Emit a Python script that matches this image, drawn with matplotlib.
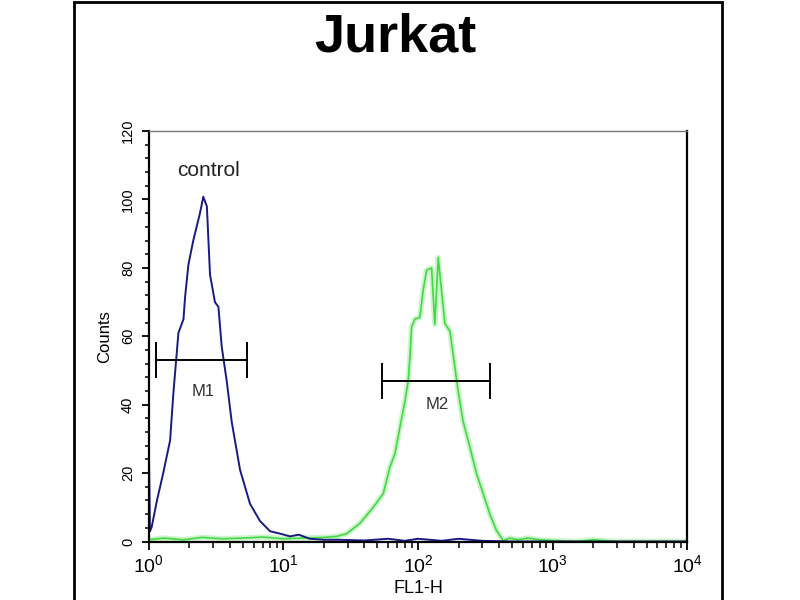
import matplotlib
matplotlib.use("Agg")
import matplotlib.pyplot as plt
from matplotlib.patches import Rectangle
from matplotlib.ticker import MultipleLocator, LogLocator, NullFormatter

plt.rcParams["font.family"] = ["Liberation Sans", "DejaVu Sans"]
plt.rcParams["mathtext.fontset"] = "custom"
plt.rcParams["mathtext.rm"] = "Liberation Sans"
plt.rcParams["mathtext.it"] = "Liberation Sans"

# control histogram (blue)
control_x = [1.0, 1.0, 1.02, 1.05, 1.15, 1.28, 1.44, 1.52, 1.66, 1.81, 1.86, 1.97, 2.14,
             2.40, 2.54, 2.70, 2.85, 3.10, 3.29, 3.48, 3.79, 4.13, 4.76, 5.65, 6.70,
             7.95, 9.44, 11.2, 13.0, 15.7, 20.0, 26.0, 40.0, 60.0, 80.0, 100.0,
             150.0, 200.0, 300.0, 500.0, 1000.0, 10000.0]
control_y = [0, 29, 3, 4.2, 12, 20, 29.6, 43, 61, 65, 71.5, 81, 88,
             96, 100.8, 98, 78, 70, 68.6, 57, 47, 35, 21, 11, 6,
             3, 2.3, 1.5, 2, 0.8, 0.5, 0.5, 0.3, 0.8, 0.2, 0.8,
             0.2, 0.8, 0.2, 0, 0, 0]

# sample histogram (green)
sample_x = [1.0, 1.3, 1.8, 2.5, 3.5, 5.0, 7.0, 10.0, 14.0, 20.0, 25.0,
            29.5, 37.0, 46.5, 55.2, 61.8, 67.4, 73.4, 80.0, 84.6, 87.1, 89.6, 94.8,
            103.3, 109.3, 115.8, 126.2, 133.4, 141.3, 145.5, 158.5, 172.7, 188.0,
            198.7, 216.6, 242.9, 272.3, 304.8, 342.0, 383.0, 429.5,
            480.0, 550.0, 650.0, 800.0, 1000.0, 1500.0, 2000.0, 3000.0, 10000.0]
sample_y = [0.5, 1, 0.5, 1.2, 0.8, 1, 1.3, 0.8, 1, 1.2, 1.5,
            2.3, 5.3, 10, 14, 21.7, 25.7, 33.4, 41, 47, 54, 62.7, 65,
            65.6, 73.5, 79.3, 80, 63.5, 83, 78, 63.7, 61.5, 51,
            44, 35, 27.6, 19.8, 14, 8, 3.2, 0.3,
            1, 0.5, 1, 0.5, 0.3, 0, 0.5, 0, 0]

# marker gates
m1_range = [1.13, 5.37]
m1_level = 53
m2_range = [53.7, 342.0]
m2_level = 47

fig = plt.figure(figsize=(8, 6), dpi=100)
fig.patch.set_facecolor("white")

# outer frame
fig.patches.append(Rectangle((0.0925, -0.1), 0.81, 1.097, transform=fig.transFigure,
                             fill=False, edgecolor="black", linewidth=2))

ax = fig.add_axes([0.186, 0.0975, 0.673, 0.684])
ax.plot(sample_x, sample_y, color="#b8f0b8", linewidth=4, alpha=0.7)
ax.plot(sample_x, sample_y, color="#44d844", linewidth=1.2)
ax.plot(control_x, control_y, color="#1a1a80", linewidth=1.4)

for (lo, hi), lvl in [(m1_range, m1_level), (m2_range, m2_level)]:
    ax.plot([lo, hi], [lvl, lvl], color="black", linewidth=1.4)
    ax.plot([lo, lo], [lvl - 5, lvl + 5], color="black", linewidth=1.4)
    ax.plot([hi, hi], [lvl - 5, lvl + 5], color="black", linewidth=1.4)
ax.text(2.54, 44, "M1", ha="center", va="center", fontsize=12, color="#333333")
ax.text(138, 40, "M2", ha="center", va="center", fontsize=12, color="#333333")
ax.text(2.76, 108.6, "control", ha="center", va="center", fontsize=15, color="#222222")

ax.set_xscale("log")
ax.set_xlim(1, 10000)
ax.set_ylim(0, 120)
ax.set_xticks([1, 10, 100, 1000, 10000])
ax.set_xticklabels([r"$10^{0}$", r"$10^{1}$", r"$10^{2}$", r"$10^{3}$", r"$10^{4}$"])
ax.xaxis.set_minor_locator(LogLocator(base=10, subs=range(2, 10)))
ax.xaxis.set_minor_formatter(NullFormatter())
ax.set_yticks(range(0, 121, 20))
ax.yaxis.set_minor_locator(MultipleLocator(4))
ax.tick_params(axis="x", which="major", labelsize=14, length=6, width=1.3, direction="out", pad=3)
ax.tick_params(axis="x", which="minor", length=4, width=1.1, direction="out")
ax.tick_params(axis="y", which="major", labelsize=10.5, length=5, width=1.3, direction="out",
               labelrotation=90, pad=5)
ax.tick_params(axis="y", which="minor", length=3, width=1.1, direction="out")
for lab in ax.get_yticklabels():
    lab.set_va("center")

ax.set_xlabel("FL1-H", fontsize=13, labelpad=3)
ax.set_ylabel("Counts", fontsize=12, labelpad=6)

for s in ax.spines.values():
    s.set_linewidth(1.6)
    s.set_color("black")
ax.spines["top"].set_color("#777777")
ax.spines["top"].set_linewidth(1)

fig.text(0.494, 0.938, "Jurkat", ha="center", va="center", fontsize=39, fontweight="bold")

fig.savefig("out.png", dpi=100)
